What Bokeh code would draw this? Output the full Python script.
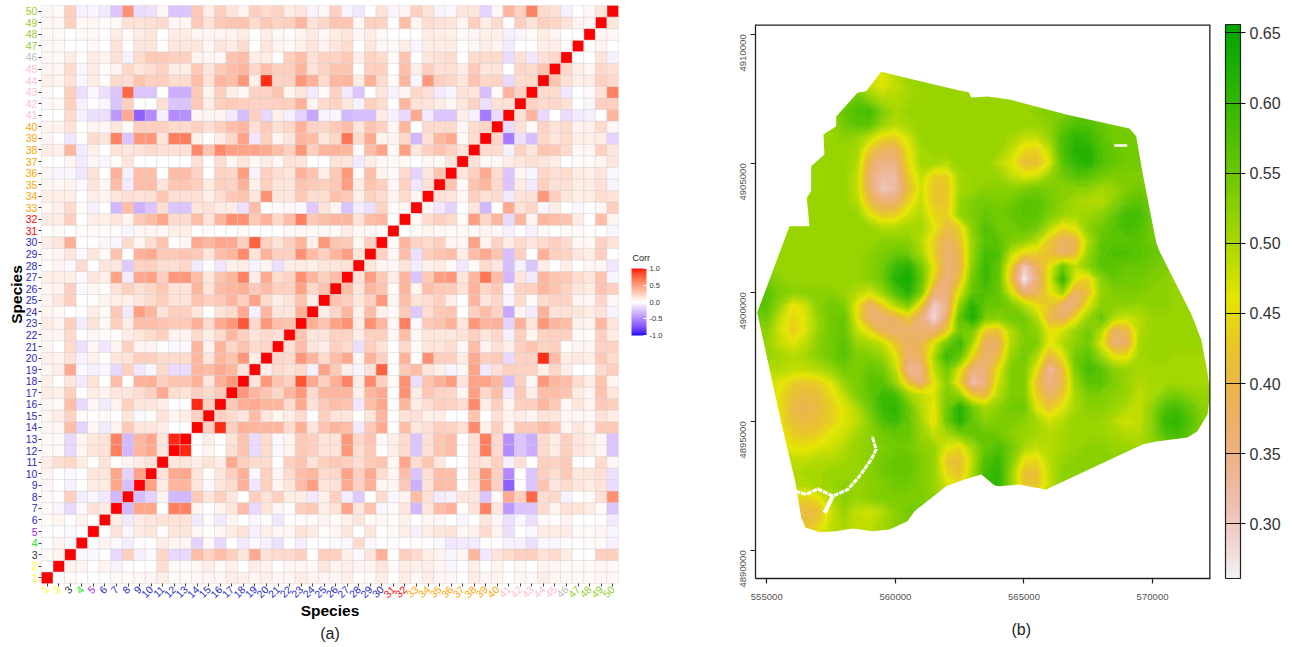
import math, colorsys
import numpy as np
from bokeh.plotting import figure
from bokeh.layouts import row, column
from bokeh.embed import file_html
from bokeh.resources import INLINE
from bokeh.models import (ColumnDataSource, LinearColorMapper, ColorBar, FixedTicker, LinearAxis, Title,
                          Range1d, NumeralTickFormatter)

# ---- (a) correlation, percent, lower triangle: r_N = corr(species N, species 1..N-1)
r02=[0]
r03=[2,5]
r04=[0,5,-2]
r05=[0,-1,-2,-1]
r06=[1,5,-1,5,0]
r07=[2,-4,-13,-2,12,8]
r08=[2,1,20,-6,-3,-7,-25]
r09=[3,0,-5,0,8,8,37,-22]
r10=[4,0,-2,0,10,10,37,-15,38]
r11=[7,14,17,8,1,12,0,5,8,12]
r12=[2,2,-13,4,10,12,52,-25,30,35,10]
r13=[2,2,-13,4,10,12,50,-25,30,37,10,88]
r14=[3,3,28,-15,3,-7,5,22,10,10,7,0,0]
r15=[4,7,18,2,0,2,0,10,-2,1,12,4,7,20]
r16=[3,2,27,-13,3,-7,5,20,10,10,7,0,0,93,20]
r17=[7,6,20,0,8,5,10,10,14,20,35,14,12,20,15,22]
r18=[6,0,10,-7,12,0,28,0,32,33,20,25,25,32,10,33,42]
r19=[4,7,35,-2,-5,-3,-13,20,-8,-3,15,-12,-12,30,28,35,30,10]
r20=[6,5,12,-5,6,1,10,12,20,20,15,15,15,30,10,30,25,42,7]
r21=[3,0,15,-10,3,-8,4,20,5,5,0,-2,-2,30,5,30,17,25,15,17]
r22=[4,3,15,0,3,1,1,8,10,15,20,5,5,15,7,15,30,20,12,15,13]
r23=[8,4,20,-6,12,2,20,8,28,28,25,22,22,33,15,35,42,65,16,42,28,25]
r24=[5,2,0,0,7,2,22,-7,40,30,12,20,20,10,0,12,15,35,-5,30,10,10,33]
r25=[4,10,20,0,1,5,7,6,10,15,20,12,12,25,20,22,30,20,38,15,7,12,25,7]
r26=[3,5,20,-2,4,1,12,20,13,17,23,12,12,30,12,28,30,33,22,28,20,18,38,17,25]
r27=[6,7,6,-2,10,6,38,-6,35,38,20,42,42,28,10,25,30,50,7,35,15,18,45,30,20,28]
r28=[1,5,-2,15,0,10,10,-18,18,20,14,14,17,-7,1,-8,6,8,-4,4,-10,7,8,6,10,10,12]
r29=[2,4,10,-2,10,2,25,0,32,35,22,22,25,22,10,27,30,47,12,32,20,20,45,28,20,30,40,10]
r30=[7,10,33,0,0,3,-3,15,4,14,25,1,3,35,30,37,35,20,62,20,12,20,30,6,42,25,22,4,20]
r31=[0,2,0,1,2,1,2,-3,4,4,3,7,7,0,1,0,0,2,0,0,0,3,3,2,3,2,8,3,3,2]
r32=[8,8,20,0,7,6,10,5,22,28,37,15,15,28,12,30,45,45,22,32,17,28,52,22,27,30,30,12,28,30,0]
r33=[3,6,15,1,-5,0,-25,28,-27,-20,14,-20,-20,10,13,8,8,-10,28,0,2,3,-2,-18,12,5,-20,-6,-10,18,2,3]
r34=[7,7,7,0,7,4,10,13,12,13,24,13,13,13,6,14,23,25,10,45,10,10,22,14,14,26,22,6,20,15,5,15,4]
r35=[4,3,5,-2,10,3,28,-7,28,28,10,24,24,20,8,20,18,32,6,20,10,10,25,22,20,22,40,8,25,20,3,20,-8,13]
r36=[3,-3,-3,-8,12,0,32,-5,27,27,0,28,28,18,0,18,17,40,-4,20,14,10,32,25,7,22,42,2,28,5,2,16,-15,10,25]
r37=[0,-1,4,-7,3,-3,1,10,0,0,-1,0,0,13,0,14,4,10,3,8,3,12,10,0,0,12,10,-7,7,3,2,2,0,3,2,10]
r38=[8,6,30,-7,6,0,12,10,12,15,13,13,13,48,25,48,40,38,38,35,28,20,42,20,30,32,30,2,28,38,2,40,10,20,25,20,12]
r39=[3,0,-8,0,15,10,50,-20,42,42,10,52,52,6,0,8,17,38,-8,20,5,10,30,28,10,17,55,15,35,5,5,17,-25,13,30,35,2,15]
r40=[5,5,12,0,5,3,10,2,20,20,20,16,16,20,13,20,27,30,13,22,13,17,32,18,17,22,28,10,25,18,3,30,0,15,15,15,3,15,17]
r41=[0,0,15,-5,-10,-10,-35,35,-55,-40,-5,-40,-38,4,5,4,-7,-22,20,-13,6,-5,-15,-30,-4,-3,-25,-22,-22,8,-5,-13,35,-7,-20,-20,7,-5,-45,-12]
r42=[3,2,20,-5,0,-3,-20,20,0,0,13,-20,-20,22,7,20,22,20,18,18,20,20,32,5,15,18,10,-5,20,15,-1,30,12,12,8,4,10,18,-10,13,13]
r43=[2,0,20,-10,-2,-10,-20,60,-20,-20,0,-28,-28,22,5,20,7,3,18,18,25,5,10,-7,2,20,-7,-20,0,10,-5,4,17,13,-7,-3,13,10,-22,2,30,18]
r44=[7,5,12,-3,8,2,15,14,25,20,20,15,15,28,12,30,28,42,6,75,18,18,42,32,15,30,30,8,33,15,2,30,-3,42,20,17,10,25,17,18,-13,15,15]
r45=[4,3,15,-3,8,1,5,17,10,14,18,8,8,22,10,22,28,30,17,28,20,20,30,12,18,25,25,0,20,20,0,28,7,20,13,13,8,22,10,12,0,17,15,25]
r46=[3,2,8,1,8,5,13,-5,15,22,22,20,20,5,4,3,25,28,7,8,1,20,28,13,18,18,22,7,18,15,2,25,0,10,13,15,0,15,15,15,-12,13,-8,13,17]
r47=[2,2,0,-1,2,0,12,0,10,10,1,10,10,10,3,10,8,15,0,10,5,2,6,10,5,10,15,0,10,3,2,8,-3,7,8,8,1,3,7,5,-7,0,0,7,7,1]
r48=[2,2,0,2,2,0,8,2,8,10,0,8,8,4,3,4,5,8,0,7,3,1,5,8,3,8,10,3,7,2,0,0,0,8,8,6,2,4,6,6,-5,-3,2,8,4,0,1]
r49=[3,3,20,2,4,1,2,13,12,13,15,3,4,22,12,22,25,25,15,22,18,20,30,12,17,25,25,3,20,18,0,28,4,14,13,10,5,20,8,15,-1,20,12,20,17,12,5,3]
r50=[3,2,20,-5,-3,-7,-20,45,-12,-10,3,-20,-20,22,8,20,10,5,20,15,18,8,10,-4,3,20,-3,-8,0,12,-3,4,20,12,-4,-2,10,10,-15,3,30,20,50,15,13,-5,0,3,10]
corr_rows=[r02,r03,r04,r05,r06,r07,r08,r09,r10,r11,r12,r13,r14,r15,r16,r17,r18,r19,r20,r21,r22,r23,r24,r25,r26,
           r27,r28,r29,r30,r31,r32,r33,r34,r35,r36,r37,r38,r39,r40,r41,r42,r43,r44,r45,r46,r47,r48,r49,r50]
species=list(range(1,51))
label_groups=[("#FFFF00",[1,2]),("#333333",[3]),("#00EE00",[4]),("#A020F0",[5]),("#2A2AC4",list(range(6,31))),
              ("#FF0000",[31,32]),("#FFA500",list(range(33,41))),("#FFC0CB",list(range(41,46))),
              ("#BEBEBE",[46]),("#9ACD32",[47,48,49,50])]

# ---- (b) mapped values x100 on a 500 m grid (x from 555000 to 572000)
map_x=list(range(555000,572500,500))
m4908500=[50,50,50,50,50,50,50, 50,48,47,50,52,52,52,52,52,52,52]+[52]*17
m4908000=[52,52,52,52,52,52,52, 52,49,47,49,51,52,52,52,52,52,52]+[52]*17
m4907500=[52,52,52,52,52,52,54, 56,53,50,50,51,52,52,52,52,52,52]+[52]*17
m4907000=[52,52,52,52,52,52,56, 58,59,54,51,52,52,52,52,52,52,52]+[52,52,52,53,54,54]+[55]*11
m4906500=[52,52,52,52,52,52,55, 57,57,52,50,51,52,52,52,52,52,52]+[52,52,52,52,53,56,58,58,56,55,54]+[55]*6
m4906000=[52,52,52,52,52,52,53, 52,49,45,44,48,52,52,52,52,52,52]+[52,51,49,49,52,58,61,60,57,55,55]+[55]*6
m4905500=[52,52,52,52,52,52,52, 51,43,39,38,46,51,52,52,52,52,52]+[52,49,45,44,49,58,62,62,58,56,55]+[55]*6
m4905000=[52,52,52,52,52,52,52, 50,39,35,36,45,51,51,50,52,52,52]+[50,47,42,42,47,57,61,62,58,56,55]+[55]*6
m4904500=[52,52,52,52,52,52,52, 49,37,33,33,43,49,44,44,51,52,52]+[52,49,47,48,52,55,57,57,55,54,54]+[54]*6
m4904000=[52,52,52,52,52,52,52, 49,38,31,33,41,48,43,43,51,52,53]+[53,53,54,55,54,53,53,53,51,52,54]+[55,54,54,54,54,54]
m4903500=[52,52,52,52,52,52,52, 50,41,37,37,44,49,43,43,52,54,55]+[54,55,57,57,55,53,51,50,50,53,56]+[57,55,55,55,55,55]
m4903000=[52,52,52,52,52,52,52, 52,47,43,44,48,50,45,44,52,54,56]+[55,56,57,57,54,52,51,52,53,56,59]+[59,55,55,55,55,55]
m4902500=[52,52,52,52,52,52,52, 52,52,50,50,51,51,47,41,44,53,58]+[55,55,56,55,50,45,47,53,55,57,59]+[58,55,55,55,55,55]
m4902000=[52,52,52,52,52,52,52, 52,52,53,53,53,50,44,38,42,52,57]+[57,54,53,50,43,38,40,50,56,57,57]+[57,55,55,55,55,55]
m4901500=[52,52,52,52,52,52,52, 52,53,54,56,55,51,44,37,40,52,59]+[58,49,44,44,42,37,41,52,57,58,58]+[57,56,55,54,54,54]
m4901000=[53,52,52,52,52,52,52, 52,53,55,60,62,55,46,37,39,53,60]+[56,44,31,38,46,55,49,53,57,57,56]+[56,55,54,53,53,53]
m4900500=[55,53,52,52,52,52,52, 52,53,55,62,64,56,44,35,42,55,60]+[56,42,27,36,47,60,46,44,53,56,55]+[55,54,53,52,52,52]
m4900000=[57,54,53,53,53,53,52, 50,48,52,58,62,54,37,36,47,56,58]+[56,47,36,38,46,52,38,42,52,54,54]+[54,53,53,52,52,52]
m4899500=[57,52,46,48,53,55,54, 46,38,44,50,54,44,30,35,52,62,56]+[56,54,50,46,43,37,37,47,53,53,53]+[52,53,53,52,52,52]
m4899000=[55,49,45,47,52,55,56, 46,37,37,39,43,36,29,37,56,63,54]+[53,55,55,50,40,38,45,52,56,50,48]+[50,52,52,52,52,52]
m4898500=[53,48,44,47,52,55,56, 49,45,39,37,38,37,37,43,55,54,43]+[42,50,54,53,46,48,52,55,50,38,40]+[50,52,52,52,52,52]
m4898000=[52,49,47,49,53,55,57, 52,51,49,43,38,40,47,55,60,50,38]+[38,50,54,54,46,50,53,55,47,37,38]+[51,52,52,52,52,52]
m4897500=[52,51,50,51,53,55,57, 54,54,52,47,37,39,50,60,56,45,37]+[41,52,55,50,40,46,55,57,52,46,46]+[51,52,52,51,51,51]
m4897000=[50,50,49,49,50,52,55, 54,56,55,49,34,35,49,55,47,36,37]+[46,54,54,46,33,41,54,59,57,53,52]+[51,51,51,51,51,51]
m4896500=[48,47,44,43,44,47,52, 54,57,57,52,42,36,46,53,44,32,36]+[48,54,54,42,35,40,52,57,57,54,52]+[50,51,51,51,51,51]
m4896000=[48,46,42,41,42,45,49, 54,56,60,59,52,49,47,54,52,43,41]+[50,54,54,44,38,43,51,54,54,53,52]+[49,51,54,55,53,52]
m4895500=[48,46,41,40,41,44,47, 50,55,60,61,56,50,46,55,62,55,51]+[53,55,55,47,43,47,51,53,53,52,50]+[49,53,58,59,56,53]
m4895000=[48,46,42,41,42,44,47, 49,53,58,60,56,51,45,55,62,56,53]+[54,54,53,51,48,50,52,52,52,50,48]+[49,53,60,61,57,53]
m4894500=[48,47,44,43,44,47,48, 51,53,55,56,56,52,49,51,54,56,56]+[55,53,52,51,50,51,52,52,52,51,50]+[50,53,58,59,56,53]
m4894000=[48,48,46,46,47,48,50, 52,53,54,55,55,53,52,47,45,51,56]+[58,55,51,49,50,51,52,53,53,52,52]+[51,52,55,56,55,53]
m4893500=[50,50,49,49,50,50,51, 52,53,55,56,56,54,52,43,42,49,58]+[60,54,46,45,50,52,53,53,53,53,53]+[53]*6
m4893000=[50,50,50,51,51,52,52, 52,53,55,56,56,54,52,45,42,50,59]+[61,52,42,42,49,53,53,53,53,53,53]+[53]*6
m4892500=[50,50,50,50,51,52,53, 52,53,54,55,55,54,52,48,46,51,60]+[61,52,43,43,49,53,53,53,53,53,53]+[53]*6
m4892000=[48,48,45,44,46,50,53, 52,53,54,54,54,54,53,50,50,53,58]+[58,53,48,48,51,53,53,53,53,53,53]+[53]*6
m4891500=[45,45,42,41,42,48,52, 49,48,50,53,55,55,54,54,54,54,54]+[54]*17
m4891000=[45,45,43,42,44,49,51, 49,49,51,53,54,54,54,54,54,54,54]+[54]*17
m4890500=[46,46,45,45,47,50,50, 50,50,52,53,54,54,54,54,54,54,54]+[54]*17
map_rows=[m4890500,m4891000,m4891500,m4892000,m4892500,m4893000,m4893500,m4894000,m4894500,m4895000,m4895500,m4896000,m4896500,
          m4897000,m4897500,m4898000,m4898500,m4899000,m4899500,m4900000,m4900500,m4901000,m4901500,m4902000,m4902500,m4903000,
          m4903500,m4904000,m4904500,m4905000,m4905500,m4906000,m4906500,m4907000,m4907500,m4908000,m4908500]
map_y=list(range(4890500,4909000,500))
area_x=[559448,560809,562492,562854,562947,563581,564436,566641,569102,569362,569607,570140,570268,571512,571890,572134,572239,572134,571746,571357,570140,569607,567935,565863,565408,564825,564047,563853,563581,563336,562687,561975,561326,560743,560470,559771,559110,558332,557698,557049,556505,556337,556116,555560,554627,555883,556660,556555,556726,556726,557243,557204,557698,557698,558526,558865]
area_y=[4908543,4908217,4907818,4907752,4907547,4907585,4907469,4906888,4906345,4906047,4904640,4901926,4901589,4899136,4898167,4896888,4896112,4895260,4894612,4894368,4894213,4894097,4893322,4892353,4892430,4892546,4892481,4892508,4892740,4892934,4892740,4892481,4891965,4891512,4891124,4890802,4890736,4890841,4890736,4890698,4890880,4891267,4892624,4894950,4899213,4902558,4902558,4903659,4903915,4904884,4905337,4906113,4906434,4906810,4907729,4907791]
river_x=[556116,556532,556983,557566,558149,558604,559059,559253,559098]
river_y=[4892287,4892159,4892380,4892093,4892353,4892868,4893516,4893903,4894419]
branch_x=[557566,557243]
branch_y=[4892093,4891450]
spot_x=[568509,569014]
spot_y=[4905686,4905686]
map_ticks_x=[555000,560000,565000,570000]
map_ticks_y=[4890000,4895000,4900000,4905000,4910000]
bar_ticks=[.30,.35,.40,.45,.50,.55,.60,.65]
corr_ticks=[-1,-.5,0,.5,1]

# ---- colour helpers
def to_lab(c):
    v=[(x/255)/12.92 if x/255<=.04045 else (((x/255)+.055)/1.055)**2.4 for x in c]
    X=(.4124*v[0]+.3576*v[1]+.1805*v[2])/.95047
    Y=(.2126*v[0]+.7152*v[1]+.0722*v[2])
    Z=(.0193*v[0]+.1192*v[1]+.9505*v[2])/1.08883
    f=lambda t:t**(1/3) if t>.008856 else 7.787*t+16/116
    return 116*f(Y)-16,500*(f(X)-f(Y)),200*(f(Y)-f(Z))
def to_hex(L,a,b):
    fy=(L+16)/116; fx=fy+a/500; fz=fy-b/200
    g=lambda t:t**3 if t**3>.008856 else (t-16/116)/7.787
    X,Y,Z=g(fx)*.95047,g(fy),g(fz)*1.08883
    r=3.2406*X-1.5372*Y-.4986*Z; gg=-.9689*X+1.8758*Y+.0415*Z; bb=.0557*X-.2040*Y+1.0570*Z
    h=lambda t:max(0,min(1,12.92*t if t<=.0031308 else 1.055*t**(1/2.4)-.055))
    return "#%02x%02x%02x"%tuple(round(h(t)*255) for t in (r,gg,bb))
WH=to_lab((255,255,255)); RE=to_lab((255,0,0)); BL=to_lab((0,0,255))
corr_pal=[]
for i in range(-100,101):
    t=abs(i)/100; e=RE if i>0 else BL
    corr_pal.append(to_hex(*[WH[k]+(e[k]-WH[k])*t for k in range(3)]))
def terrain(n):
    k=n//2; out=[]
    for i in range(k):
        t=i/(k-1); h=(4/12+(2/12-4/12)*t); v=.65+(.9-.65)*t
        out.append(colorsys.hsv_to_rgb(h,1,v))
    for i in range(1,n-k+1):
        t=i/(n-k); out.append(colorsys.hsv_to_rgb(2/12*(1-t),1-t,.9+.05*t))
    return ["#%02x%02x%02x"%tuple(round(c*255) for c in rgb) for rgb in out]

# ---- panel (a): the frame spans the whole left part of the page, so that labels and legend lie inside it
GAIN=1.25   # my colour reading of the blurred cells ran pale
cx,cy,cv=[],[],[]
for s in species:
    cx.append(s); cy.append(s); cv.append(1.0)
for i,rw in enumerate(corr_rows):
    s=i+2
    for j,v in enumerate(rw[:s-1]):
        val=min(.95,max(-.95,v/100*GAIN))
        cx+= [j+1,s]; cy+= [s,j+1]; cv+= [val,val]
corr_map=LinearColorMapper(palette=corr_pal,low=-1,high=1)
a=figure(title=None,output_backend="svg",toolbar_location=None,frame_width=700,frame_height=645,
         x_range=Range1d(-3.05,57.61),y_range=Range1d(-4.86,50.93),min_border=0)
a.rect(x="x",y="y",width=1,height=1,source=ColumnDataSource(dict(x=cx,y=cy,v=cv)),
       fill_color={"field":"v","transform":corr_map},line_color="#cccccc",line_alpha=.35,line_width=1)
a.grid.visible=False
a.outline_line_color=None
for ax,lab in ((a.xaxis[0],"Species"),(a.yaxis[0],"Species")):
    ax.ticker=FixedTicker(ticks=[])
    ax.fixed_location=.5
    ax.bounds=(.5,50.5)
    ax.axis_line_color=None
    ax.major_tick_line_color=None
    ax.major_tick_out=3; ax.major_tick_in=0
    ax.minor_tick_line_color=None
    ax.axis_label=lab
    ax.axis_label_text_font="Liberation Sans"
    ax.axis_label_text_font_style="bold"
    ax.axis_label_text_font_size="15.5px"
    ax.axis_label_text_color="#000000"
a.xaxis[0].axis_label_standoff=18
a.yaxis[0].axis_label_standoff=17
def tick_axis(col,ids,**kw):
    return LinearAxis(ticker=FixedTicker(ticks=ids),fixed_location=.5,axis_line_color=None,
                      major_tick_line_color="#444444",major_tick_out=3,major_tick_in=0,minor_tick_line_color=None,
                      major_label_text_color=col,major_label_text_font="Liberation Sans",major_label_text_font_size="10.5px",**kw)
for col,ids in label_groups:
    a.add_layout(tick_axis(col,ids,major_label_standoff=1),"left")
    a.add_layout(tick_axis(col,ids,major_label_standoff=1,major_label_orientation=math.pi/4),"below")
def caption(text,standoff,**kw):
    return LinearAxis(ticker=FixedTicker(ticks=[]),axis_line_color=None,major_tick_line_color=None,minor_tick_line_color=None,
                      major_tick_out=0,major_tick_in=0,axis_label=text,axis_label_standoff=standoff,
                      axis_label_text_font="Liberation Sans",axis_label_text_font_style="normal",**kw)
a.add_layout(caption("(a)",41,fixed_location=.5,bounds=(.5,50.5),axis_label_text_font_size="16px",axis_label_text_color="#222222"),"below")
a.add_layout(caption("Corr",14,fixed_location=50.5,bounds=(27.67,29.67),axis_label_orientation="horizontal",
                     axis_label_text_font_size="9px",axis_label_text_color="#222222"),"right")
cb=ColorBar(color_mapper=corr_map,ticker=FixedTicker(ticks=corr_ticks),formatter=NumeralTickFormatter(format="0.0"),
            width=15,height=67,padding=0,margin=0,major_label_text_font="Liberation Sans",major_label_text_font_size="7.5px",
            major_label_text_color="#333333",label_standoff=3,major_tick_line_color="#ffffff",major_tick_in=3,major_tick_out=0,location=(631,310))
a.add_layout(cb)

# ---- panel (b)
grid=np.pad(np.array(map_rows)/100,1,mode="edge")-.005
gx=np.array([map_x[0]-500]+map_x+[map_x[-1]+500])
gy=np.array([map_y[0]-500]+map_y+[map_y[-1]+500])
LOW,HIGH=.261,.656
levels=list(np.linspace(LOW,HIGH,81))
terr=terrain(80)[::-1]
x0,x1,y0,y1=554561,572251,4888903,4910376
b=figure(title=None,output_backend="svg",toolbar_location=None,frame_width=455,frame_height=554,
         x_range=Range1d(x0,x1),y_range=Range1d(y0,y1),min_border_left=55,min_border_top=24,
         min_border_right=74,min_border_bottom=8)
b.contour(gx,gy,grid,levels,fill_color=terr,line_color=terr+[terr[-1]],line_width=1)
ox0,ox1,oy0,oy1=x0-2000,x1+2000,y0-2000,y1+2000
b.multi_polygons(xs=[[[[ox0,ox1,ox1,ox0],area_x]]],ys=[[[[oy0,oy0,oy1,oy1],area_y]]],fill_color="#ffffff",line_color=None)
b.line(river_x,river_y,line_color="#ffffff",line_width=3,line_dash="5 1")
b.line(branch_x,branch_y,line_color="#ffffff",line_width=4)
b.line(spot_x,spot_y,line_color="#ffffff",line_width=2.5)
b.line([x0,x1,x1],[y1,y1,y0],line_color="#222222",line_width=2.6)   # top and right of the box (half clipped by the frame)
b.grid.visible=False
b.outline_line_color=None
for ax,t in ((b.xaxis[0],map_ticks_x),(b.yaxis[0],map_ticks_y)):
    ax.ticker=FixedTicker(ticks=t)
    ax.formatter=NumeralTickFormatter(format="0")
    ax.axis_line_color="#222222"; ax.axis_line_width=1.3
    ax.major_tick_line_color="#222222"; ax.major_tick_line_width=1.2
    ax.major_tick_out=5; ax.major_tick_in=0
    ax.minor_tick_line_color=None
    ax.major_label_text_font="Liberation Sans"
    ax.major_label_text_font_size="9.6px"
    ax.major_label_text_color="#555555"
    ax.major_label_standoff=7
b.xaxis[0].major_label_standoff=10
b.yaxis[0].major_label_orientation=math.pi/2
b.add_layout(Title(text="(b)",align="left",offset=256,standoff=32,text_font="Liberation Sans",text_font_size="16px",
                   text_font_style="normal",text_color="#222222"),"below")
bar_map=LinearColorMapper(palette=terrain(256)[::-1],low=LOW,high=HIGH)
cb2=ColorBar(color_mapper=bar_map,ticker=FixedTicker(ticks=bar_ticks),formatter=NumeralTickFormatter(format="0.00"),
             width=15,height=554,padding=0,margin=0,bar_line_color="#222222",bar_line_width=1.2,
             major_tick_line_color="#111111",major_tick_line_width=1.2,major_tick_in=15,major_tick_out=5,
             major_label_text_font="Liberation Sans",major_label_text_font_size="16px",major_label_text_color="#333333",
             label_standoff=4,location=(15,0))
b.add_layout(cb2,"right")

page=row(a,column(b),spacing=0)
open("out.html","w").write(file_html(page,INLINE))
